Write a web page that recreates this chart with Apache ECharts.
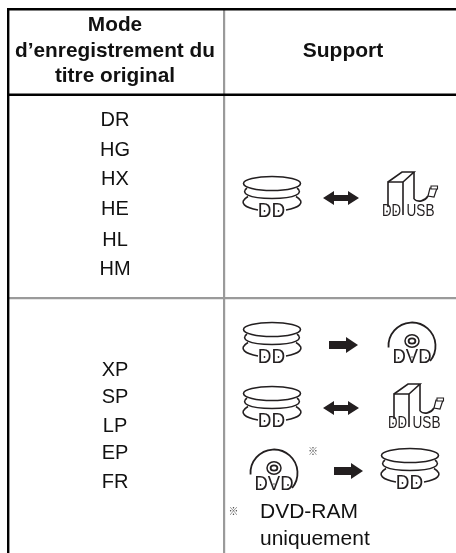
<!DOCTYPE html>
<html><head><meta charset="utf-8">
<style>html,body{margin:0;padding:0;background:#fff}#c{width:456px;height:553px}</style>
<script src="https://cdn.jsdelivr.net/npm/echarts@6/dist/echarts.min.js"></script>
</head><body><div id="c"></div>
<script>
const headerLeft = ["Mode", "d\u2019enregistrement du", "titre original"];
const headerRight = "Support";
const modesA = ["DR", "HG", "HX", "HE", "HL", "HM"];
const modesB = ["XP", "SP", "LP", "EP", "FR"];
const noteLines = ["DVD-RAM", "uniquement"];
const noteMark = "\u203B";
const modesAY = [120, 150, 179, 209, 240, 269];
const modesBY = [370, 397, 426, 453, 482];

const F = '"Liberation Sans", Arial, sans-serif';
const INK = '#231f20', GREY = '#9a9a9a';
const ln = {stroke: INK, lineWidth: 1.6, fill: null};

function txt(x, y, s, size, extra) {
  return {type:'text', x, y, style:Object.assign({text:s, fontFamily:F, fontSize:size, fill:'#111', align:'center', verticalAlign:'middle'}, extra||{})};
}
function bz(a,b,c,d,e,f,g,h,ls){return {type:'bezierCurve', shape:{x1:a,y1:b,cpx1:c,cpy1:d,cpx2:e,cpy2:f,x2:g,y2:h}, style:ls||ln};}
function dLetters(cx, y, s, dots, size, sx){
  const els = [{type:'text', x:cx, y, scaleX:sx, style:{text:s, fontFamily:F, fontSize:size, fill:INK, align:'center', verticalAlign:'middle'}}];
  dots.forEach(d=>els.push({type:'circle', shape:{cx:cx+d, cy:y, r:0.9}, style:{fill:INK}}));
  return els;
}
function ddIcon(x, y){
  return {type:'group', x, y, children:[
    {type:'ellipse', shape:{cx:0, cy:7.5, rx:28.5, ry:7}, style:ln},
    bz(-25,12,-32,17,-24,22.5,0,22.5), bz(25,12,32,17,24,22.5,0,22.5),
    bz(-24,20.5,-35,27,-26,32,-14,34), bz(24,20.5,35,27,26,32,14,34),
    ...dLetters(-0.5, 35, 'DD', [-7,7], 20, 0.95)
  ]};
}
function dvdIcon(x, y){
  return {type:'group', x, y, children:[
    {type:'arc', shape:{cx:0, cy:23, r:23.5, startAngle:Math.PI*0.98, endAngle:Math.PI*0.22, clockwise:true}, style:{stroke:INK, lineWidth:1.8, fill:null}},
    {type:'ellipse', shape:{cx:0, cy:18, rx:7, ry:6.2}, style:{stroke:INK, lineWidth:1.5, fill:null}},
    {type:'ellipse', shape:{cx:0, cy:18, rx:3.4, ry:2.7}, style:{stroke:INK, lineWidth:1.8, fill:null}},
    ...dLetters(0, 35, 'DVD', [-13.5,14], 19.5, 0.95),
    {type:'circle', shape:{cx:0, cy:34, r:0.7}, style:{fill:INK}}
  ]};
}
function usbIcon(x, y){
  return {type:'group', x, y, children:[
    {type:'polyline', shape:{points:[[6,35],[6,10],[21,10],[21,43]]}, style:ln},
    {type:'polyline', shape:{points:[[6,10],[20,0],[32,0],[21,10]]}, style:ln},
    {type:'polyline', shape:{points:[[32,0],[32,27]]}, style:ln},
    bz(32,27,36,31,43,29,46,24),
    {type:'polygon', shape:{points:[[46,24],[48,16],[55,16],[52,25]]}, style:{stroke:INK,lineWidth:1.2,fill:'#fff'}},
    {type:'rect', shape:{x:49,y:14,width:6.5,height:3}, style:{stroke:INK,lineWidth:1.1,fill:'#fff'}},
    ...dLetters(9.5, 39.5, 'DD', [-4.5,4.5], 17, 0.78),
    ...dLetters(38.5, 39.5, 'USB', [], 17, 0.8)
  ]};
}
function dblArrow(x, y){
  return {type:'polygon', x, y, shape:{points:[[0,0],[11,-7],[11,-3],[25,-3],[25,-7],[36,0],[25,7],[25,3],[11,3],[11,7]]}, style:{fill:INK}};
}
function arrow(x, y){
  return {type:'polygon', x, y, shape:{points:[[0,-4],[17,-4],[17,-8],[29,0],[17,8],[17,4],[0,4]]}, style:{fill:INK}};
}
function line(x,y,w,h,c){return {type:'rect', shape:{x,y,width:w,height:h}, style:{fill:c}};}

const elements = [
  line(223,9,2.2,544,GREY),
  line(8,297,448,2.2,GREY),
  line(7,8,449,2.4,'#000'),
  line(7,93.5,449,2.4,'#000'),
  line(7,8,2.4,545,'#000'),
  ...headerLeft.map((s,i)=>txt(115,[25,51,76][i],s,20.8,{fontWeight:'bold'})),
  txt(343,51,headerRight,21,{fontWeight:'bold'}),
  ...modesA.map((s,i)=>txt(115,modesAY[i],s,20)),
  ...modesB.map((s,i)=>txt(115,modesBY[i],s,20)),
  txt(260,512,noteLines[0],21,{align:'left'}),
  txt(260,539,noteLines[1],21,{align:'left'}),
  txt(233.5,511,noteMark,10,{fontFamily:'"Noto Sans CJK JP"',fill:'#444'}),
  txt(313,451,noteMark,10,{fontFamily:'"Noto Sans CJK JP"',fill:'#444'}),
  ddIcon(272,176), dblArrow(323,198), usbIcon(382,172),
  ddIcon(272,322), arrow(329,345), dvdIcon(412,323),
  ddIcon(272,386), dblArrow(323,408), usbIcon(388,384),
  dvdIcon(274,450), arrow(334,471), ddIcon(410,448)
];

const chart = echarts.init(document.getElementById('c'), null, {renderer:'canvas', width:456, height:553});
chart.setOption({backgroundColor:'#fff', animation:false, graphic:{elements}});
</script></body></html>
